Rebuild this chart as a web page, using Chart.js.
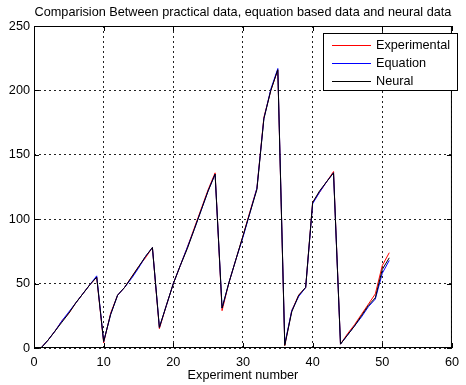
<!DOCTYPE html>
<html>
<head>
<meta charset="utf-8">
<script src="https://cdn.jsdelivr.net/npm/chart.js@4/dist/chart.umd.min.js"></script>
<style>
  html, body { margin: 0; padding: 0; background: #fff; }
  #wrap { width: 466px; height: 385px; }
</style>
</head>
<body>
<div id="wrap"><canvas id="chart"></canvas></div>
<script>
const experiments = [1,2,3,4,5,6,7,8,9,10,11,12,13,14,15,16,17,18,19,20,21,22,23,24,25,26,27,28,29,30,31,32,33,34,35,36,37,38,39,40,41,42,43,44,45,46,47,48,49,50,51];

const experimental = [0,6,13,21,27,35,42,49,55,4,27,41,47,55,63,70,78,15,33,50,64,78,93,108,123,136,29,51,69,87,106,124,179,200,216,2,29,41,47,113,121,129,137,3,11,18,26,34,42,64,74];
const equation = [0,6,13,21,28,35,42,49,56,5,26,41,47,54,62,71,78,16,33,50,64,78,92,107,122,135,31,51,69,86,105,124,178,201,217,3,29,40,47,112,121,129,136,3,10,17,24,32,38,58,68];
const neural = [0,6,13,20,27,35,42,49,55,5,26,41,47,55,63,71,78,16,33,50,64,77,92,107,122,135,31,51,69,87,105,123,178,200,216,2,28,41,47,113,122,129,136,3,10,17,25,33,39,61,70];

const xTicks = [0,10,20,30,40,50,60];
const yTicks = [0,50,100,150,200,250];

const chartTitle = 'Comparision Between practical data, equation based data and neural data';
const FONT = '"Liberation Sans", Arial, sans-serif';

const pairs = (ys) => experiments.map((x, i) => ({ x, y: ys[i] }));

// MATLAB style: title over the axes, box, inward ticks and an inset legend
const matlabLook = {
  id: 'matlabLook',
  afterDraw(chart) {
    const { ctx, chartArea: a } = chart;
    ctx.save();

    ctx.fillStyle = '#000';
    ctx.font = '12.7px ' + FONT;
    ctx.textAlign = 'center';
    ctx.textBaseline = 'middle';
    ctx.fillText(chartTitle, (a.left + a.right) / 2, 12);

    ctx.strokeStyle = '#000';
    ctx.lineWidth = 1;
    ctx.strokeRect(a.left + 0.5, a.top + 0.5, a.right - a.left - 1, a.bottom - a.top - 1);

    const xs = chart.scales.x, ys = chart.scales.y;
    ctx.beginPath();
    xTicks.forEach(v => {
      const px = Math.round(xs.getPixelForValue(v)) + 0.5;
      ctx.moveTo(px, a.bottom); ctx.lineTo(px, a.bottom - 5);
      ctx.moveTo(px, a.top); ctx.lineTo(px, a.top + 5);
    });
    yTicks.forEach(v => {
      const py = Math.round(ys.getPixelForValue(v)) + 0.5;
      ctx.moveTo(a.left, py); ctx.lineTo(a.left + 5, py);
      ctx.moveTo(a.right, py); ctx.lineTo(a.right - 5, py);
    });
    ctx.stroke();

    // legend box
    const lx = 323, ly = 33, w = 134, h = 57;
    ctx.fillStyle = '#fff';
    ctx.fillRect(lx, ly, w, h);
    ctx.strokeRect(lx + 0.5, ly + 0.5, w, h);
    ctx.font = '12.7px ' + FONT;
    ctx.textAlign = 'left';
    chart.data.datasets.forEach((ds, i) => {
      const ry = Math.round(ly + 12 + i * 18) + 0.5;
      ctx.strokeStyle = ds.borderColor;
      ctx.beginPath();
      ctx.moveTo(lx + 9, ry); ctx.lineTo(lx + 48, ry);
      ctx.stroke();
      ctx.fillStyle = '#000';
      ctx.fillText(ds.label, lx + 53, ry);
    });
    ctx.restore();
  }
};

new Chart(document.getElementById('chart'), {
  type: 'line',
  data: {
    datasets: [
      { label: 'Experimental', data: pairs(experimental), borderColor: '#ff0000', order: 3 },
      { label: 'Equation', data: pairs(equation), borderColor: '#0000ff', order: 2 },
      { label: 'Neural', data: pairs(neural), borderColor: '#000000', order: 1 },
    ],
  },
  options: {
    responsive: true,
    maintainAspectRatio: false,
    animation: false,
    layout: { padding: { left: 0, right: 5, top: 26, bottom: 0 } },
    elements: {
      point: { radius: 0 },
      line: { borderWidth: 1, tension: 0 },
    },
    plugins: {
      legend: { display: false },
      tooltip: { enabled: false },
    },
    scales: {
      x: {
        type: 'linear',
        min: 0,
        max: 60,
        afterBuildTicks: (s) => { s.ticks = xTicks.map(value => ({ value })); },
        afterFit: (s) => { s.height = 37; },
        grid: { color: '#222', drawTicks: false, lineWidth: 1 },
        border: { display: false, dash: [2, 3] },
        ticks: { color: '#000', padding: 7, font: { family: FONT, size: 12.7 } },
        title: {
          display: true,
          text: 'Experiment number',
          color: '#000',
          padding: { top: 0, bottom: 2 },
          font: { family: FONT, size: 12.7 },
        },
      },
      y: {
        min: 0,
        max: 250,
        afterBuildTicks: (s) => { s.ticks = yTicks.map(value => ({ value })); },
        afterFit: (s) => { s.width = 34; },
        grid: { color: '#222', drawTicks: false, lineWidth: 1 },
        border: { display: false, dash: [2, 3] },
        ticks: { color: '#000', padding: 4, font: { family: FONT, size: 12.7 } },
      },
    },
  },
  plugins: [matlabLook],
});
</script>
</body>
</html>
